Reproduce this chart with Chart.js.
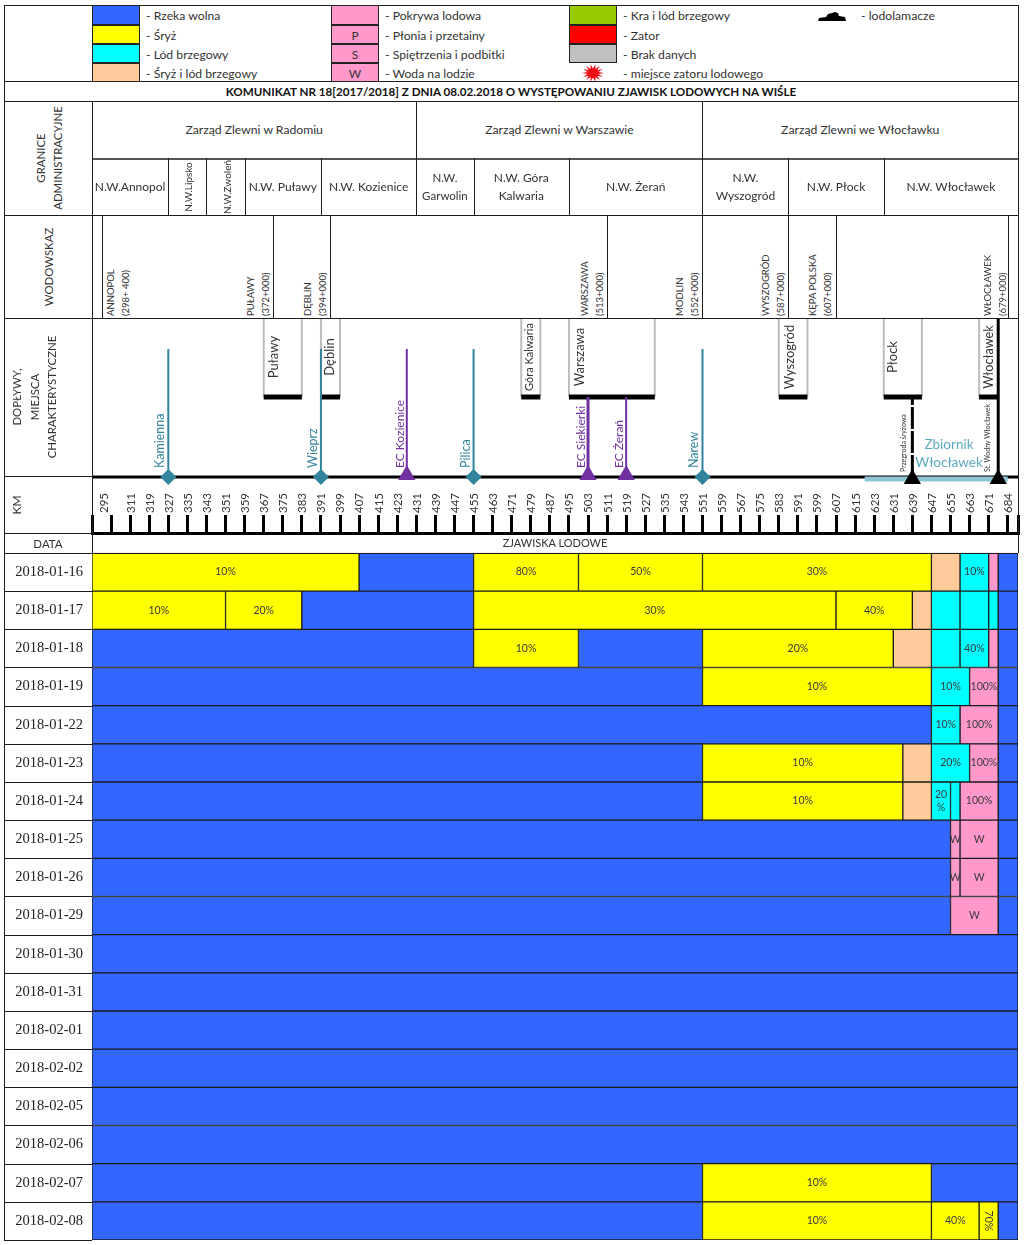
<!DOCTYPE html>
<html lang="pl">
<head>
<meta charset="utf-8">
<title>Komunikat nr 18 - zjawiska lodowe na Wiśle</title>
<script src="https://cdn.jsdelivr.net/npm/chart.js@4"></script>
<style>
  html, body { margin: 0; padding: 0; background: #fff; }
  #page { position: relative; width: 1024px; height: 1245px; overflow: hidden; font-family: Lato, sans-serif; color: #333; }
  #page canvas { position: absolute; left: 0; }
  .t { position: absolute; white-space: pre; text-align: center; line-height: 1.25; }
  .l { position: absolute; background: #1c1c1c; }
</style>
</head>
<body>
<div id="page">
  <canvas id="bars" width="1024" height="765" style="top:477px"></canvas>
  <canvas id="places" width="1024" height="172" style="top:318px"></canvas>
</div>
<script>
// river km axis
const kmStart = 295;
const kmEnd = 683.3;
const kmTicks = [295, 300, 303, 311, 319, 327, 335, 343, 351, 359, 367, 375, 383, 391, 399, 407, 415, 423, 431, 439, 447, 455, 463, 471, 479, 487, 495, 503, 511, 519, 527, 535, 543, 551, 559, 567, 575, 583, 591, 599, 607, 615, 623, 631, 639, 647, 655, 663, 671, 679, kmEnd];
const kmLabels = ['', '295', '', '311', '319', '327', '335', '343', '351', '359', '367', '375', '383', '391', '399', '407', '415', '423', '431', '439', '447', '455', '463', '471', '479', '487', '495', '503', '511', '519', '527', '535', '543', '551', '559', '567', '575', '583', '591', '599', '607', '615', '623', '631', '639', '647', '655', '663', '671', '684', ''];

// one row per date: where each stretch ends (km), what it is, and its label
const dates = ['2018-01-16', '2018-01-17', '2018-01-18', '2018-01-19', '2018-01-22', '2018-01-23', '2018-01-24', '2018-01-25', '2018-01-26', '2018-01-29', '2018-01-30', '2018-01-31', '2018-02-01', '2018-02-02', '2018-02-05', '2018-02-06', '2018-02-07', '2018-02-08'];
const segEnds = [
  [407, 455, 499, 551, 647, 659, 671, 675, kmEnd],
  [351, 383, 455, 607, 639, 647, 659, 671, 675, kmEnd],
  [455, 499, 551, 631, 647, 659, 671, 675, kmEnd],
  [551, 647, 663, 675, kmEnd],
  [647, 659, 675, kmEnd],
  [551, 635, 647, 663, 675, kmEnd],
  [551, 635, 647, 655, 659, 675, kmEnd],
  [655, 659, 675, kmEnd],
  [655, 659, 675, kmEnd],
  [655, 675, kmEnd],
  [kmEnd], [kmEnd], [kmEnd], [kmEnd], [kmEnd], [kmEnd],
  [551, 647, kmEnd],
  [551, 647, 667, 675, kmEnd]
];
const segKinds = [
  ['S', 'R', 'S', 'S', 'S', 'M', 'B', 'P', 'R'],
  ['S', 'S', 'R', 'S', 'S', 'M', 'B', 'B', 'B', 'R'],
  ['R', 'S', 'R', 'S', 'M', 'B', 'B', 'P', 'R'],
  ['R', 'S', 'B', 'P', 'R'],
  ['R', 'B', 'P', 'R'],
  ['R', 'S', 'M', 'B', 'P', 'R'],
  ['R', 'S', 'M', 'B', 'B', 'P', 'R'],
  ['R', 'P', 'P', 'R'],
  ['R', 'P', 'P', 'R'],
  ['R', 'P', 'R'],
  ['R'], ['R'], ['R'], ['R'], ['R'], ['R'],
  ['R', 'S', 'R'],
  ['R', 'S', 'S', 'S', 'R']
];
const segTexts = [
  ['10%', '', '80%', '50%', '30%', '', '10%', '', ''],
  ['10%', '20%', '', '30%', '40%', '', '', '', '', ''],
  ['', '10%', '', '20%', '', '', '40%', '', ''],
  ['', '10%', '10%', '100%', ''],
  ['', '10%', '100%', ''],
  ['', '10%', '', '20%', '100%', ''],
  ['', '10%', '', '20\n%', '', '100%', ''],
  ['', 'W', 'W', ''],
  ['', 'W', 'W', ''],
  ['', 'W', ''],
  [''], [''], [''], [''], [''], [''],
  ['', '10%', ''],
  ['', '10%', '40%', '70%', '']
];
const kindCodes = ['R', 'S', 'B', 'M', 'P'];
const kindNames = ['Rzeka wolna', 'Śryż', 'Lód brzegowy', 'Śryż i lód brzegowy', 'Pokrywa lodowa'];
const kindColors = ['#3366FF', '#FFFF00', '#00FFFF', '#FFCC99', '#FF99CC'];

// places along the river (km)
const tributaryKm = [327, 391, 455, 551];
const tributaryNames = ['Kamienna', 'Wieprz', 'Pilica', 'Narew'];
const plantKm = [427, 503, 519];
const plantNames = ['EC Kozienice', 'EC Siekierki', 'EC Żerań'];
const barrierKm = [639, 675];
const cityNames = ['Puławy', 'Dęblin', 'Góra Kalwaria', 'Warszawa', 'Wyszogród', 'Płock', 'Włocławek'];
const cityFrom = [367, 391, 475, 495, 583, 627, 667];
const cityTo = [383, 399, 483, 531, 595, 643, 675];
const reservoirKm = [619, 679];
const gaugeKm = [299, 371, 395, 511, 551, 587, 607, 679];
const gaugeNames = ['ANNOPOL\n(298+ 400)', 'PUŁAWY\n(372+000)', 'DĘBLIN\n(394+000)', 'WARSZAWA\n(513+000)', 'MODLIN\n(552+000)', 'WYSZOGRÓD\n(587+000)', 'KĘPA POLSKA\n(607+000)', 'WŁOCŁAWEK\n(679+000)'];
const boardNames = ['Zarząd Zlewni w Radomiu', 'Zarząd Zlewni w Warszawie', 'Zarząd Zlewni we Włocławku'];
const boardEdges = [295, 431, 551, kmEnd];
const districtNames = ['N.W.Annopol', 'N.W.Lipsko', 'N.W.Zwoleń', 'N.W. Puławy', 'N.W. Kozienice', 'N.W.\nGarwolin', 'N.W. Góra\nKalwaria', 'N.W. Żerań', 'N.W.\nWyszogród', 'N.W. Płock', 'N.W. Włocławek'];
const districtEdges = [295, 327, 343, 359, 391, 431, 455, 495, 551, 587, 627, kmEnd];

const heightTop = 159, heightTributary = 128, heightCity = 80;

Chart.defaults.font.family = 'Lato';
Chart.defaults.animation = false;

const segments = kindCodes.map((code, k) => {
  const data = [];
  dates.forEach((d, r) => {
    let from = kmStart;
    segEnds[r].forEach((to, i) => {
      if (segKinds[r][i] === code) data.push({x: [from, to], y: r, text: segTexts[r][i]});
      from = to;
    });
  });
  return {label: kindNames[k], data: data, backgroundColor: kindColors[k], borderColor: '#1a1a1a', borderWidth: 1, borderSkipped: false, grouped: false, barPercentage: 1, categoryPercentage: 1};
});

const segLabels = {
  id: 'segLabels',
  afterDatasetsDraw(chart) {
    const ctx = chart.ctx;
    chart.data.datasets.forEach((ds, d) => {
      chart.getDatasetMeta(d).data.forEach((bar, i) => {
        const item = ds.data[i];
        if (!item.text) return;
        const left = bar.base, right = bar.x, cy = bar.y, h = bar.height;
        ctx.save();
        ctx.beginPath();
        ctx.rect(left, cy - h / 2, right - left, h);
        ctx.clip();
        ctx.fillStyle = '#3a3a3a';
        ctx.font = '10.5px Lato';
        ctx.textAlign = 'center';
        ctx.textBaseline = 'middle';
        ctx.translate((left + right) / 2, cy);
        const lines = item.text.split('\n');
        if (lines.length === 1 && item.text !== 'W' && item.x[1] - item.x[0] <= 8) ctx.rotate(Math.PI / 2);
        lines.forEach((s, n) => ctx.fillText(s, 0, (n - (lines.length - 1) / 2) * 13));
        ctx.restore();
      });
    });
  },
  afterDraw(chart) {
    // row rules of the date column
    const ctx = chart.ctx, y = chart.scales.y;
    ctx.save();
    ctx.strokeStyle = '#1a1a1a';
    ctx.lineWidth = 1;
    dates.forEach((d, r) => {
      ctx.beginPath();
      ctx.moveTo(4, Math.round(y.getPixelForValue(r + 0.5)) + 0.5);
      ctx.lineTo(92, Math.round(y.getPixelForValue(r + 0.5)) + 0.5);
      ctx.stroke();
    });
    ctx.restore();
  }
};

const barChart = new Chart(document.getElementById('bars'), {
  type: 'bar',
  data: {datasets: segments},
  options: {
    indexAxis: 'y',
    responsive: false,
    devicePixelRatio: 1,
    layout: {autoPadding: false, padding: {right: 6, bottom: 2}},
    plugins: {legend: {display: false}, tooltip: {enabled: false}},
    scales: {
      x: {
        type: 'linear',
        position: 'top',
        min: kmStart,
        max: kmEnd,
        afterFit: s => { s.height = 56; s.paddingLeft = 0; s.paddingRight = 0; },
        afterBuildTicks: s => { s.ticks = kmTicks.map(v => ({value: v})); },
        border: {color: '#000', width: 3},
        grid: {
          drawOnChartArea: false,
          tickLength: 18,
          lineWidth: 3,
          color: c => (c.tick && c.tick.value === 300 ? 'rgba(0,0,0,0)' : '#000')
        },
        ticks: {
          autoSkip: false,
          minRotation: 90,
          maxRotation: 90,
          labelOffset: 14.5,
          padding: 2,
          color: '#333',
          font: {size: 11.5},
          callback: (v, i) => kmLabels[i]
        }
      },
      y: {
        type: 'linear',
        reverse: true,
        offset: false,
        min: -1.024,
        max: 17.5,
        afterFit: s => { s.width = 92; s.paddingTop = 0; s.paddingBottom = 0; },
        afterBuildTicks: s => { s.ticks = dates.map((d, i) => ({value: i})); },
        border: {display: false},
        grid: {display: false, drawTicks: false},
        ticks: {
          autoSkip: false,
          padding: 9,
          color: '#222',
          font: {family: 'Liberation Serif', size: 14.5},
          callback: (v, i) => dates[i]
        }
      }
    }
  },
  plugins: [segLabels]
});

// vertical stroke between two heights for every km in the list
function strokes(kms, low, high) {
  const pts = [];
  kms.forEach(km => { pts.push({x: km, y: low}, {x: km, y: high}, {x: km, y: null}); });
  return pts;
}
function lineSet(data, color, width, dash) {
  return {type: 'line', data: data, borderColor: color, borderWidth: width, borderDash: dash || [], pointRadius: 0, fill: false, spanGaps: false, tension: 0};
}
function markerSet(kms, level, style, size, color) {
  return {type: 'scatter', data: kms.map(km => ({x: km, y: level})), pointStyle: style, pointRadius: size, backgroundColor: color, borderColor: color, borderWidth: 0, showLine: false};
}

const boxSides = [], boxBottoms = [];
cityNames.forEach((c, i) => {
  boxSides.push(...strokes([cityFrom[i], cityTo[i]], heightCity, heightTop));
  boxBottoms.push({x: cityFrom[i], y: heightCity}, {x: cityTo[i], y: heightCity}, {x: cityTo[i], y: null});
});

new Chart(document.getElementById('places'), {
  type: 'scatter',
  data: {datasets: [
    markerSet(tributaryKm, 0, 'rectRot', 8, '#31849B'),
    markerSet(plantKm, 2, 'triangle', 10, '#7030A0'),
    markerSet(barrierKm, -2, 'triangle', 10, '#000'),
    lineSet(strokes([639], 0, heightCity), '#000', 3, [22, 2]),
    lineSet(strokes([675], 0, heightTop), '#000', 3),
    lineSet(strokes([503], 0, heightCity), '#7030A0', 3),
    lineSet(strokes([519], 0, heightCity), '#7030A0', 2),
    lineSet(strokes([427], 0, heightTributary), '#7030A0', 2),
    lineSet(strokes(tributaryKm, 0, heightTributary), '#31849B', 2),
    lineSet(boxBottoms, '#000', 5),
    lineSet(boxSides, '#BDBDBD', 2),
    lineSet([{x: reservoirKm[0], y: -2}, {x: reservoirKm[1], y: -2}], '#8FC3D6', 5),
    lineSet([{x: kmStart, y: 0}, {x: kmEnd, y: 0}], '#000', 3)
  ]},
  options: {
    responsive: false,
    devicePixelRatio: 1,
    layout: {autoPadding: false, padding: {left: 92, right: 6}},
    plugins: {legend: {display: false}, tooltip: {enabled: false}},
    scales: {
      x: {type: 'linear', display: false, min: kmStart, max: kmEnd},
      y: {type: 'linear', display: false, min: -13, max: heightTop}
    }
  }
});

// table frame and texts around the charts, placed through the km scale
const page = document.getElementById('page');
const kmX = km => barChart.scales.x.getPixelForValue(km);

function hline(y, x1, x2, h, color) {
  const d = document.createElement('div');
  d.className = 'l';
  d.style.cssText = `left:${x1}px;top:${y}px;width:${x2 - x1}px;height:${h || 1}px;` + (color ? `background:${color};` : '');
  page.appendChild(d);
}
function vline(x, y1, y2, w) {
  const d = document.createElement('div');
  d.className = 'l';
  d.style.cssText = `left:${Math.round(x)}px;top:${y1}px;width:${w || 1}px;height:${y2 - y1}px;`;
  page.appendChild(d);
}
function put(text, x, y, size, o) {
  o = o || {};
  const d = document.createElement('div');
  d.className = 't';
  d.textContent = text;
  let transform = 'translate(-50%,-50%)';
  if (o.up) transform += ' rotate(-90deg)';
  if (o.foot) {
    // rotated text starting at (x, y) and running upwards
    transform = 'rotate(-90deg) translateY(-50%)';
    d.style.transformOrigin = '0 0';
    d.style.textAlign = 'left';
  }
  if (o.start) { transform = 'translateY(-50%)'; d.style.textAlign = 'left'; }
  d.style.left = x + 'px';
  d.style.top = y + 'px';
  d.style.transform = transform;
  d.style.fontSize = size + 'px';
  if (o.color) d.style.color = o.color;
  if (o.bold) d.style.fontWeight = 'bold';
  if (o.height) d.style.lineHeight = o.height;
  page.appendChild(d);
}
function swatch(x, y, w, h, color, text) {
  const d = document.createElement('div');
  d.className = 't';
  d.textContent = text || '';
  d.style.cssText += `left:${x}px;top:${y}px;width:${w}px;height:${h}px;line-height:${h}px;background:${color};box-sizing:border-box;border:1px solid #222;font-size:12px;`;
  page.appendChild(d);
}

// frame
const rules = [5, 81, 101, 215, 318, 553];
rules.forEach(y => hline(y, 4, 1018));
hline(158, 92, 1018, 2, '#555');
vline(4, 5, 553);
vline(1018, 5, 553);
vline(92, 5, 81);
vline(92, 101, 553);
vline(4, 553, 1240);
boardEdges.slice(1, 3).forEach(km => vline(kmX(km), 101, 158));
districtEdges.slice(1, -1).forEach(km => vline(kmX(km), 158, 215));
gaugeKm.forEach(km => vline(kmX(km), 215, 318));
hline(476, 4, 92);
hline(533, 4, 92);

// legend
const legendRows = [5, 25, 44, 63];
const legendH = [20, 19, 19, 19];
const col1 = [[kindColors[0], ''], [kindColors[1], ''], [kindColors[2], ''], [kindColors[3], '']];
const col1Names = ['- Rzeka wolna', '- Śryż', '- Lód brzegowy', '- Śryż i lód brzegowy'];
const col2 = [[kindColors[4], ''], [kindColors[4], 'P'], [kindColors[4], 'S'], [kindColors[4], 'W']];
const col2Names = ['- Pokrywa lodowa', '- Płonia i przetainy', '- Spiętrzenia i podbitki', '- Woda na lodzie'];
const col3 = [['#99CC00', ''], ['#FF0000', ''], ['#C0C0C0', '']];
const col3Names = ['- Kra i lód brzegowy', '- Zator', '- Brak danych', '- miejsce zatoru lodowego'];
col1.forEach((c, i) => { swatch(92, legendRows[i], 48, legendH[i], c[0], c[1]); put(col1Names[i], 146, legendRows[i] + legendH[i] / 2 + 1, 12.2, {start: true}); });
col2.forEach((c, i) => { swatch(331, legendRows[i], 48, legendH[i], c[0], c[1]); put(col2Names[i], 385, legendRows[i] + legendH[i] / 2 + 1, 12.2, {start: true}); });
col3.forEach((c, i) => { swatch(569, legendRows[i], 48, legendH[i], c[0], c[1]); });
col3Names.forEach((s, i) => put(s, 623, legendRows[i] + legendH[i] / 2 + 1, 12.2, {start: true}));
put('- lodolamacze', 861, 16, 12.2, {start: true});

let star = '';
for (let i = 0; i < 28; i++) {
  const r = i % 2 ? 5.5 : 11, a = i * Math.PI / 14;
  star += (11 + r * Math.cos(a)).toFixed(1) + ',' + (9 + r * 0.82 * Math.sin(a)).toFixed(1) + ' ';
}
const icons = document.createElement('div');
icons.innerHTML = `<svg style="position:absolute;left:582px;top:64px" width="22" height="18"><polygon points="${star}" fill="#F00A14"/></svg>
<svg style="position:absolute;left:818px;top:11px" width="29" height="11"><path d="M0 10 L1 7 L8 6 L10 3 L14 2 L17 1 L20 2 L21 5 L27 6 L28 10 Z" fill="#000"/></svg>`;
page.appendChild(icons);

// headings
put('KOMUNIKAT NR 18[2017/2018] Z DNIA 08.02.2018 O WYSTĘPOWANIU ZJAWISK LODOWYCH NA WIŚLE', 511, 91.5, 11.65, {bold: true, color: '#111'});
put('GRANICE\nADMINISTRACYJNE', 48.5, 158, 11.4, {up: true, height: '17px'});
put('WODOWSKAZ', 49, 267, 11.4, {up: true});
put('DOPŁYWY,\nMIEJSCA\nCHARAKTERYSTYCZNE', 34, 397, 11.4, {up: true, height: '17.5px'});
put('KM', 16, 505, 12, {up: true});
put('DATA', 48, 544, 11.5);
put('ZJAWISKA LODOWE', 555, 543, 11);

boardNames.forEach((s, i) => put(s, (kmX(boardEdges[i]) + kmX(boardEdges[i + 1])) / 2, 130, 12.2));
districtNames.forEach((s, i) => {
  const cx = (kmX(districtEdges[i]) + kmX(districtEdges[i + 1])) / 2;
  if (i === 1 || i === 2) put(s, cx + 1, 187, 10, {up: true});
  else put(s, cx, 187, i === 5 ? 11.5 : 12, {height: '18px'});
});

// gauges: label left of the line, except Annopol which sits on its right
const gaugeShift = [16, -15, -15, -15, -15, -15, -16, -13];
gaugeNames.forEach((s, i) => put(s, kmX(gaugeKm[i]) + gaugeShift[i], 316, 9.5, {foot: true, height: '15px'}));

const cityShift = [-10, -1, -2, -33, -4, -11, 0];
cityNames.forEach((s, i) => {
  const cx = (kmX(cityFrom[i]) + kmX(cityTo[i])) / 2 + cityShift[i];
  put(s, cx, 357, i === 2 ? 11 : i === 6 ? 12.7 : 13, {up: true});
});

tributaryNames.forEach((s, i) => put(s, kmX(tributaryKm[i]) - 8, 468, 12.5, {foot: true, color: '#31849B'}));
plantNames.forEach((s, i) => put(s, kmX(plantKm[i]) - 8, 468, 12, {foot: true, color: '#7030A0'}));
put('Przegroda śryżowa', kmX(barrierKm[0]) - 9, 472, 7, {foot: true});
put('St. Wodny Włocławek', kmX(barrierKm[1]) - 11, 472, 7, {foot: true});
put('Zbiornik\nWłocławek', 949, 453, 13.5, {color: '#5BA9BF', height: '18px'});
</script>
</body>
</html>
